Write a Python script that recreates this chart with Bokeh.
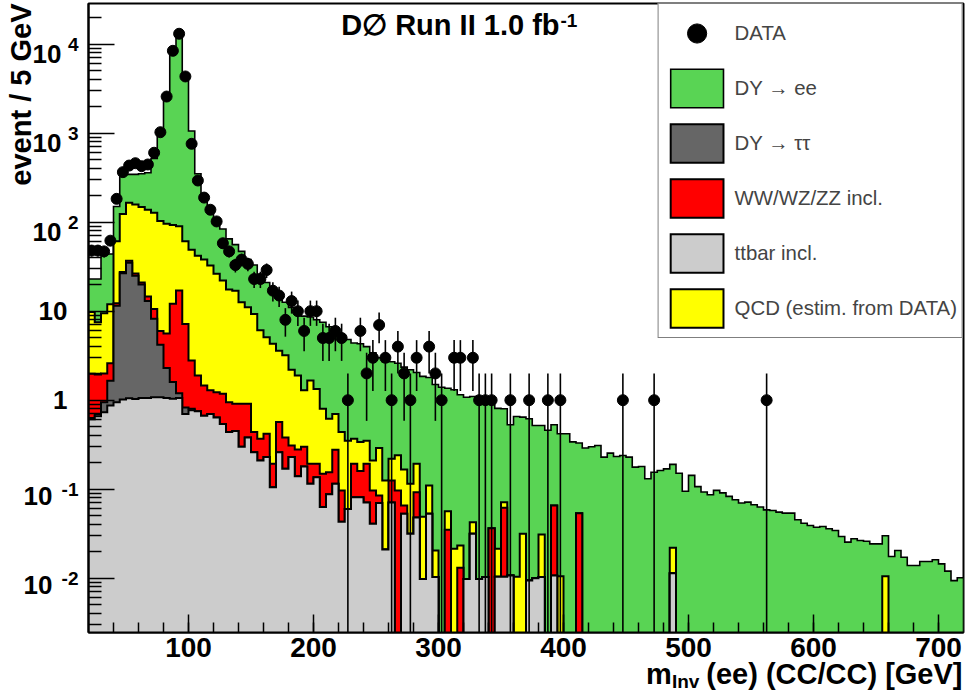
import numpy as np
from bokeh.plotting import figure
from bokeh.models import (FixedTicker, Label, Legend, LegendItem, Range1d, LinearAxis)
from bokeh.embed import file_html
from bokeh.resources import INLINE

# ---------------------------------------------------------------- binning
MASS_MIN, MASS_MAX, BIN_WIDTH = 20, 720, 5
edges = np.arange(MASS_MIN, MASS_MAX + BIN_WIDTH, BIN_WIDTH)
centers = 0.5 * (edges[:-1] + edges[1:])

# ---------------------------------------------------------------- data (events / 5 GeV)
data_counts = [
    48, 48, 47, 62, 183, 365, 433, 460, 426, 445,
    603, 1026, 2582, 8430, 13100, 4340, 760, 294, 189, 138,
    102, 58, 47, 33, 38, 34, 23, 23, 29, 17,
    15, 8, 13, 10, 6, 10, 10, 5, 5, 6,
    5, 1, 0, 6, 2, 3, 7, 3, 1, 4,
    2, 1, 3, 0, 4, 2, 1, 0, 3, 3,
    0, 3, 1, 1, 1, 0, 0, 1, 0, 0,
    1, 0, 0, 1, 0, 1, 0, 0, 0, 0,
    0, 0, 0, 0, 0, 1, 0, 0, 0, 0,
    1, 0, 0, 0, 0, 0, 0, 0, 0, 0,
    0, 0, 0, 0, 0, 0, 0, 0, 1, 0,
    0, 0, 0, 0, 0, 0, 0, 0, 0, 0,
    0, 0, 0, 0, 0, 0, 0, 0, 0, 0,
    0, 0, 0, 0, 0, 0, 0, 0, 0, 0,
]

# ---------------------------------------------------------------- stacked MC
# upper edge of each layer of the stack (ttbar at the bottom, DY->ee on top)
stack_ttbar = [
    0.61, 0.66, 0.73, 0.87, 0.95, 1.02, 1.05, 1.03, 1.06, 1.06,
    1.08, 1.08, 1.06, 1.04, 1.06, 0.70, 0.77, 0.75, 0.67, 0.70,
    0.64, 0.54, 0.44, 0.45, 0.30, 0.38, 0.26, 0.21, 0.23, 0.105,
    0.26, 0.17, 0.23, 0.14, 0.18, 0.115, 0.136, 0.063, 0.088, 0.115,
    0.043, 0.060, 0.081, 0.081, 0.071, 0.041, 0.070, 0.021, 0.071, 0,
    0.053, 0.0315, 0.048, 0.0098, 0.053, 0.0103, 0, 0, 0, 0,
    0.0098, 0.0315, 0.0098, 0.0103, 0, 0.0104, 0.0104, 0.0107, 0, 0,
    0.0094, 0.0100, 0.0103, 0, 0.0107, 0, 0, 0, 0, 0,
    0, 0, 0, 0, 0, 0, 0, 0, 0, 0,
    0, 0, 0, 0.0114, 0, 0, 0, 0, 0, 0,
    0, 0, 0, 0, 0, 0, 0, 0, 0, 0,
    0, 0, 0, 0, 0, 0, 0, 0, 0, 0,
    0, 0, 0, 0, 0, 0, 0, 0, 0, 0,
    0, 0, 0, 0, 0, 0, 0, 0, 0, 0,
]

stack_tautau = [
    0.63, 0.70, 0.95, 1.65, 11.5, 26.7, 35.0, 25.0, 20.0, 13.0,
    8.2, 4.2, 2.3, 1.6, 1.2, 0.83, 0.80, 0.75, 0.67, 0.70,
    0.64, 0.54, 0.44, 0.45, 0.30, 0.38, 0.26, 0.21, 0.23, 0.105,
    0.26, 0.17, 0.23, 0.14, 0.18, 0.115, 0.136, 0.063, 0.088, 0.115,
    0.043, 0.060, 0.081, 0.081, 0.071, 0.041, 0.070, 0.021, 0.071, 0,
    0.053, 0.0315, 0.048, 0.0098, 0.053, 0.0103, 0, 0, 0, 0,
    0.0098, 0.0315, 0.0098, 0.0103, 0, 0.0104, 0.0104, 0.0107, 0, 0,
    0.0094, 0.0100, 0.0103, 0, 0.0107, 0, 0, 0, 0, 0,
    0, 0, 0, 0, 0, 0, 0, 0, 0, 0,
    0, 0, 0, 0.0114, 0, 0, 0, 0, 0, 0,
    0, 0, 0, 0, 0, 0, 0, 0, 0, 0,
    0, 0, 0, 0, 0, 0, 0, 0, 0, 0,
    0, 0, 0, 0, 0, 0, 0, 0, 0, 0,
    0, 0, 0, 0, 0, 0, 0, 0, 0, 0,
]

stack_diboson = [
    1.98, 1.95, 2.0, 2.6, 12.3, 27.5, 37.0, 26.5, 21.0, 14.6,
    10.6, 6.0, 5.6, 12.1, 17.1, 7.2, 2.8, 1.9, 1.46, 1.29,
    1.23, 1.18, 0.95, 0.91, 0.91, 0.91, 0.44, 0.37, 0.42, 0.193,
    0.57, 0.38, 0.31, 0.28, 0.30, 0.193, 0.193, 0.149, 0.155, 0.277,
    0.097, 0.060, 0.193, 0.16, 0.193, 0.097, 0.085, 0.021, 0.125, 0.097,
    0.0656, 0.0315, 0.0925, 0.0098, 0.053, 0.0103, 0, 0.035, 0, 0.0131,
    0.0098, 0.0315, 0.0098, 0.0103, 0.0365, 0.0104, 0.0617, 0.0107, 0, 0,
    0.0094, 0.0100, 0.0103, 0, 0.0656, 0, 0, 0, 0.0538, 0,
    0, 0, 0, 0, 0, 0, 0, 0, 0, 0,
    0, 0, 0, 0.0114, 0, 0, 0, 0, 0, 0,
    0, 0, 0, 0, 0, 0, 0, 0, 0, 0,
    0, 0, 0, 0, 0, 0, 0, 0, 0, 0,
    0, 0, 0, 0, 0, 0, 0, 0, 0, 0,
    0, 0, 0, 0, 0, 0, 0, 0, 0, 0,
]

stack_qcd = [
    9.8, 7.5, 9.5, 12.0, 61, 124, 165, 158, 148, 138,
    128, 103, 96, 93, 90, 61, 49, 42, 38, 32.6,
    26.3, 22.1, 17.5, 17.0, 12.6, 11.1, 9.3, 6.1, 5.1, 4.3,
    3.6, 3.2, 2.2, 1.9, 1.29, 1.66, 1.34, 0.80, 0.62, 0.70,
    0.44, 0.35, 0.37, 0.34, 0.35, 0.21, 0.29, 0.125, 0.22, 0.24,
    0.166, 0.115, 0.193, 0.049, 0.11, 0.0205, 0, 0.0566, 0.0214, 0.0233,
    0.0098, 0.0426, 0.0098, 0.0103, 0.0365, 0.0214, 0.0714, 0.0107, 0.0104, 0.0315,
    0.0094, 0.0100, 0.031, 0, 0.0656, 0.0105, 0, 0, 0.0538, 0,
    0, 0, 0, 0, 0, 0, 0, 0, 0, 0,
    0, 0, 0, 0.022, 0, 0, 0, 0, 0, 0,
    0, 0, 0, 0, 0, 0, 0, 0, 0, 0,
    0, 0, 0, 0, 0, 0, 0, 0, 0, 0,
    0, 0, 0, 0, 0, 0, 0, 0.0105, 0, 0,
    0, 0, 0, 0, 0, 0, 0, 0, 0, 0,
]

stack_dyee = [
    23, 23, 44, 44, 150, 335, 345, 345, 350, 360,
    520, 1000, 2450, 7800, 12000, 4600, 1060, 350, 200, 150,
    110, 84, 65, 56, 47, 38, 33, 26, 21, 17,
    15, 12.6, 11, 9.5, 8.8, 8.6, 8.0, 7.5, 6.7, 6.3,
    5.2, 4.8, 4.4, 4.3, 4.0, 3.4, 3.0, 2.7, 2.7, 2.6,
    2.35, 2.2, 2.05, 1.85, 1.8, 1.5, 1.4, 1.36, 1.31, 1.15,
    1.08, 1.10, 1.10, 1.03, 1.02, 0.81, 0.80, 0.53, 0.655, 0.645,
    0.62, 0.52, 0.52, 0.46, 0.53, 0.42, 0.42, 0.34, 0.33, 0.29,
    0.30, 0.31, 0.229, 0.254, 0.233, 0.239, 0.229, 0.177, 0.180, 0.131,
    0.155, 0.162, 0.169, 0.190, 0.151, 0.095, 0.143, 0.107, 0.093, 0.0865,
    0.097, 0.091, 0.083, 0.076, 0.070, 0.0715, 0.067, 0.063, 0.0586, 0.0577,
    0.0552, 0.0538, 0.0538, 0.0453, 0.0415, 0.0391, 0.0374, 0.0381, 0.0359, 0.0344,
    0.0294, 0.0254, 0.0277, 0.0265, 0.026, 0.0243, 0.0243, 0.030, 0.0175, 0.0205,
    0.0172, 0.0139, 0.0139, 0.0154, 0.0154, 0.0161, 0.0145, 0.012, 0.0094, 0.0101,
]

# ---------------------------------------------------------------- labels / colours
legend_labels = ["DATA", "DY \u2192 ee", "DY \u2192 \u03c4\u03c4", "WW/WZ/ZZ incl.",
                 "ttbar incl.", "QCD (estim. from DATA)"]
COL_DYEE, COL_TAUTAU, COL_DIBOSON, COL_TTBAR, COL_QCD = (
    "#59d454", "#666666", "#ff0000", "#cccccc", "#ffff00")

x_tick_values = [100, 200, 300, 400, 500, 600, 700]
y_decades = [4, 3, 2, 1, 0, -1, -2]

header_text, header_sup = "D\u2205 Run II 1.0 fb", "-1"
x_title_main, x_title_sub, x_title_rest = "m", "Inv", "(ee) (CC/CC) [GeV]"
y_title = "event / 5 GeV"

# ---------------------------------------------------------------- canvas geometry
W, H = 966, 700
BORDER_L, BORDER_R, BORDER_T, BORDER_B = 88, 3, 3, 68
FRAME_W = W - BORDER_L - BORDER_R
FRAME_H = H - BORDER_T - BORDER_B
PX_PER_DECADE = 89.0
Y_OF_ONE = 399.7                      # canvas row of the value 1
LOG_TOP = (Y_OF_ONE - BORDER_T) / PX_PER_DECADE
LOG_BOT = LOG_TOP - FRAME_H / PX_PER_DECADE
PX_PER_GEV = FRAME_W / (MASS_MAX - MASS_MIN)
FRAME_RIGHT = W - BORDER_R


def gx(px):
    """canvas column -> mass value"""
    return MASS_MIN + (px - BORDER_L) / PX_PER_GEV


def gy(py):
    """canvas row -> value on the log axis"""
    return 10 ** (LOG_TOP - (py - BORDER_T) / PX_PER_DECADE)


def shifted(e, dpx):
    """value dpx pixels below the decade 10**e"""
    return 10 ** (e - dpx / PX_PER_DECADE)


p = figure(width=W, height=H, x_range=Range1d(MASS_MIN, MASS_MAX),
           y_range=Range1d(10 ** LOG_BOT, 10 ** LOG_TOP), y_axis_type="log",
           output_backend="svg", toolbar_location=None,
           min_border_left=BORDER_L, min_border_right=BORDER_R,
           min_border_top=BORDER_T, min_border_bottom=BORDER_B)
p.grid.visible = False
p.background_fill_color = "white"
p.border_fill_color = "white"
p.outline_line_color = "black"
p.outline_line_width = 2

# ---------------------------------------------------------------- stacked histograms
FLOOR = 1e-6


def step_polygon(tops):
    xs, ys = [edges[0]], [FLOOR]
    for lo, hi, t in zip(edges[:-1], edges[1:], tops):
        t = t if t > 0 else FLOOR
        xs += [lo, hi]
        ys += [t, t]
    xs.append(edges[-1])
    ys.append(FLOOR)
    return xs, ys


layers = [
    (stack_dyee, COL_DYEE, 1.6),
    (stack_qcd, COL_QCD, 2),
    (stack_diboson, COL_DIBOSON, 2),
    (stack_tautau, COL_TAUTAU, 2),
    (stack_ttbar, COL_TTBAR, 2),
]
layer_renderers = []
for tops, col, lw in layers:
    xs, ys = step_polygon(tops)
    layer_renderers.append(p.patch(xs, ys, fill_color=col, line_color="black",
                                   line_width=lw, line_join="miter"))
r_dyee, r_qcd, r_dib, r_tau, r_tt = layer_renderers

# ---------------------------------------------------------------- data points
counts = np.array(data_counts, dtype=float)
mask = counts > 0
err = np.sqrt(counts[mask])
lo = np.maximum(counts[mask] - err, FLOOR)
hi = counts[mask] + err
p.segment(x0=centers[mask], y0=lo, x1=centers[mask], y1=hi,
          line_color="black", line_width=1.6)
r_data = p.scatter(centers[mask], counts[mask], marker="circle", size=11,
                   fill_color="black", line_color="black")

# ---------------------------------------------------------------- axes
FONT = "Liberation Sans"
SUP_SIZE, BASE_SIZE = 19, 26

xa = p.xaxis[0]
xa.ticker = FixedTicker(ticks=x_tick_values, minor_ticks=list(range(40, MASS_MAX, 20)))
xa.major_label_text_font = FONT
xa.major_label_text_font_size = "28px"
xa.major_label_text_font_style = "bold"
xa.major_label_text_color = "black"
xa.major_label_standoff = 5
xa.major_tick_in = 18
xa.major_tick_out = 0
xa.minor_tick_in = 10
xa.minor_tick_out = 0
xa.axis_line_width = 2

# the log axis itself carries the exponents; the "10" bases are added below
decade_values = [10.0 ** e for e in y_decades]
exponent_text = ["" if e in (0, 1) else str(e) for e in y_decades]
ya = p.yaxis[0]
ya.ticker = FixedTicker(ticks=decade_values,
                        minor_ticks=[k * 10.0 ** e for e in range(-3, 5) for k in range(2, 10)])
ya.major_label_overrides = dict(zip(decade_values, exponent_text))
ya.major_label_text_font = FONT
ya.major_label_text_font_size = f"{SUP_SIZE}px"
ya.major_label_text_font_style = "bold"
ya.major_label_text_color = "black"
ya.major_label_standoff = 10
ya.major_tick_in = 26
ya.major_tick_out = 0
ya.minor_tick_in = 13
ya.minor_tick_out = 0
ya.axis_line_width = 2

for ax in (xa, ya):
    ax.major_tick_line_width = 1.5
    ax.minor_tick_line_width = 1.5
    ax.major_tick_line_color = "black"
    ax.minor_tick_line_color = "black"


def text_axis(side, ticks, texts, size, standoff, orientation="horizontal"):
    """an extra, line-less axis whose tick labels carry text"""
    ax = LinearAxis(ticker=FixedTicker(ticks=ticks),
                    major_label_overrides=dict(zip(ticks, texts)))
    ax.axis_line_color = None
    ax.major_tick_line_color = None
    ax.minor_tick_line_color = None
    ax.major_tick_out = 0
    ax.major_tick_in = 0
    ax.major_label_orientation = orientation
    ax.major_label_text_font = FONT
    ax.major_label_text_font_size = f"{size}px"
    ax.major_label_text_font_style = "bold"
    ax.major_label_text_color = "black"
    ax.major_label_standoff = standoff
    p.add_layout(ax, side)


pos_exp = [e for e in y_decades if e >= 2]
neg_exp = [e for e in y_decades if e < 0]
text_axis("left", [10.0, 1.0], ["10", "1"], BASE_SIZE, -9)
text_axis("left", [shifted(e, 10) for e in pos_exp], ["10"] * len(pos_exp), BASE_SIZE, -26)
text_axis("left", [shifted(e, 7) for e in neg_exp], ["10"] * len(neg_exp), BASE_SIZE, -23)

# y title, running down from the top of the frame
y_title_len = 6.281 * 29
text_axis("left", [gy(BORDER_T + y_title_len / 2)], [y_title], 29, -17,
          orientation="parallel")

# x title: "m" with an "Inv" subscript, then "(ee) (CC/CC) [GeV]" ending at the frame edge
TITLE_SIZE, SUB_SIZE = 29, 19
rest_w = 8.833 * TITLE_SIZE
rest_start = FRAME_RIGHT - rest_w
sub_w = 1.445 * SUB_SIZE
m_w = 0.889 * TITLE_SIZE
sub_right = rest_start - 8
x_sub = round(gx(sub_right - sub_w / 2), 3)
x_m = round(gx(sub_right - sub_w - m_w / 2), 3)
x_rest = round(gx(FRAME_RIGHT - rest_w / 2 - 1), 3)

text_axis("below", [x_sub], [x_title_sub], SUB_SIZE, 11)
text_axis("below", [x_m, x_rest], [x_title_main, x_title_rest], TITLE_SIZE, -37)

# header
p.add_layout(Label(x=gx(559), y=gy(40), text=header_text, text_font=FONT,
                   text_font_size="29px", text_font_style="bold", text_align="right",
                   text_color="black"))
p.add_layout(Label(x=gx(560), y=gy(26), text=header_sup, text_font=FONT,
                   text_font_size="19px", text_font_style="bold", text_align="left",
                   text_color="black"))

# ---------------------------------------------------------------- legend
legend = Legend(items=[
    LegendItem(label=legend_labels[0], renderers=[r_data]),
    LegendItem(label=legend_labels[1], renderers=[r_dyee]),
    LegendItem(label=legend_labels[2], renderers=[r_tau]),
    LegendItem(label=legend_labels[3], renderers=[r_dib]),
    LegendItem(label=legend_labels[4], renderers=[r_tt]),
    LegendItem(label=legend_labels[5], renderers=[r_qcd]),
], location="top_right")
legend.margin = 0
legend.padding = 5
legend.spacing = 7
legend.glyph_width = 66
legend.glyph_height = 48
legend.label_standoff = 5
legend.label_text_font = FONT
legend.label_text_font_size = "20.4px"
legend.border_line_color = "black"
legend.border_line_width = 1.5
legend.background_fill_color = "white"
legend.background_fill_alpha = 1.0
p.add_layout(legend)

open("out.html", "w").write(file_html(p, INLINE))
